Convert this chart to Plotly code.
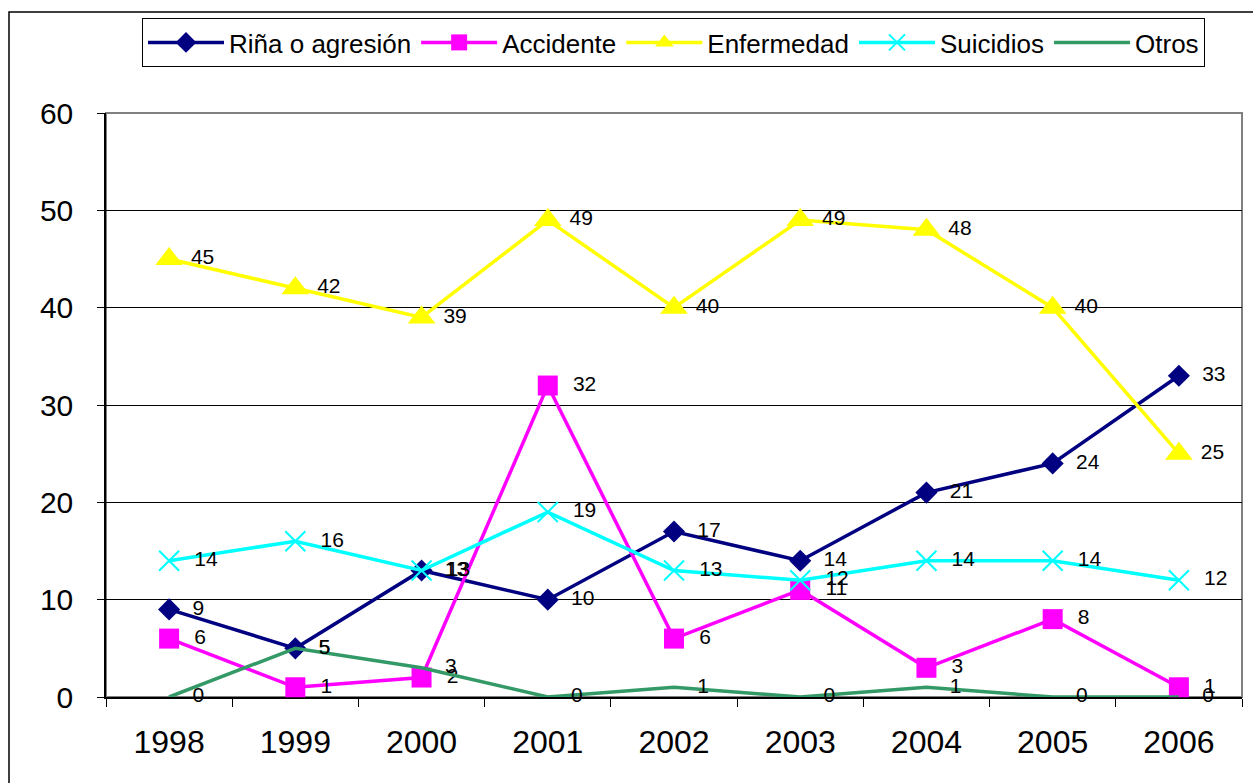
import plotly.graph_objects as go

years = ["1998", "1999", "2000", "2001", "2002", "2003", "2004", "2005", "2006"]
rina = [9, 5, 13, 10, 17, 14, 21, 24, 33]
accidente = [6, 1, 2, 32, 6, 11, 3, 8, 1]
enfermedad = [45, 42, 39, 49, 40, 49, 48, 40, 25]
suicidios = [14, 16, 13, 19, 13, 12, 14, 14, 12]
otros = [0, 5, 3, 0, 1, 0, 1, 0, 0]

FONT = "Liberation Sans, Arial, sans-serif"

series = [
    ("Riña o agresión", rina, "#000080", dict(symbol="diamond", size=17, color="#000080"), "  "),
    ("Accidente", accidente, "#FF00FF", dict(symbol="square", size=20, color="#FF00FF"), "  "),
    ("Enfermedad", enfermedad, "#FFFF00", dict(symbol="triangle-up", size=24, color="#FFFF00"), " "),
    ("Suicidios", suicidios, "#00FFFF", dict(symbol="x-thin", size=20, color="#00FFFF",
                                             line=dict(color="#00FFFF", width=2)), "  "),
    ("Otros", otros, "#339966", None, "    "),
]

fig = go.Figure()
for name, vals, col, mk, pad in series:
    fig.add_trace(go.Scatter(
        x=years, y=vals, name=name,
        mode="lines+markers+text" if mk else "lines+text",
        line=dict(color=col, width=3.5),
        marker=mk if mk else None,
        text=[pad + str(v) for v in vals],
        textposition="middle right",
        textfont=dict(family=FONT, size=21, color="black"),
        cliponaxis=False,
    ))

W, H = 1253, 783
L, R, T, B = 106, 11, 113, 86
pw, ph = W - L - R, H - T - B

fig.update_layout(
    width=W, height=H,
    margin=dict(l=L, r=R, t=T, b=B),
    paper_bgcolor="white", plot_bgcolor="white",
    font=dict(family=FONT, color="black"),
    showlegend=True,
    legend=dict(
        orientation="h",
        x=(142 - L) / pw, y=1 + (T - 18) / ph,
        xanchor="left", yanchor="top",
        bordercolor="black", borderwidth=1, bgcolor="white",
        font=dict(family=FONT, size=26, color="black"),
        itemwidth=76,
    ),
    xaxis=dict(
        type="category", range=[-0.5, 8.5],
        tickson="boundaries", ticks="outside", ticklen=8, tickcolor="black",
        showline=True, linecolor="black", linewidth=1.5,
        showgrid=False, zeroline=False,
        tickfont=dict(family=FONT, size=32, color="black"),
        ticklabelstandoff=16,
        layer="below traces",
    ),
    yaxis=dict(
        range=[0, 60], tickvals=[0, 10, 20, 30, 40, 50, 60],
        ticks="outside", ticklen=7, tickcolor="black",
        showline=True, linecolor="black", linewidth=1.5,
        showgrid=True, gridcolor="black", gridwidth=1,
        zeroline=False,
        tickfont=dict(family=FONT, size=30, color="black"),
        ticklabelstandoff=18,
        layer="below traces",
    ),
    shapes=[
        dict(type="rect", xref="paper", yref="paper",
             x0=0, x1=1, y0=0, y1=1,
             line=dict(color="#808080", width=2), layer="below"),
        dict(type="rect", xref="paper", yref="paper",
             x0=(9 - L) / pw, x1=1.2, y0=-0.5, y1=1 + (T - 12) / ph,
             line=dict(color="black", width=1.5), layer="below"),
    ],
)

fig.write_html("out.html")
